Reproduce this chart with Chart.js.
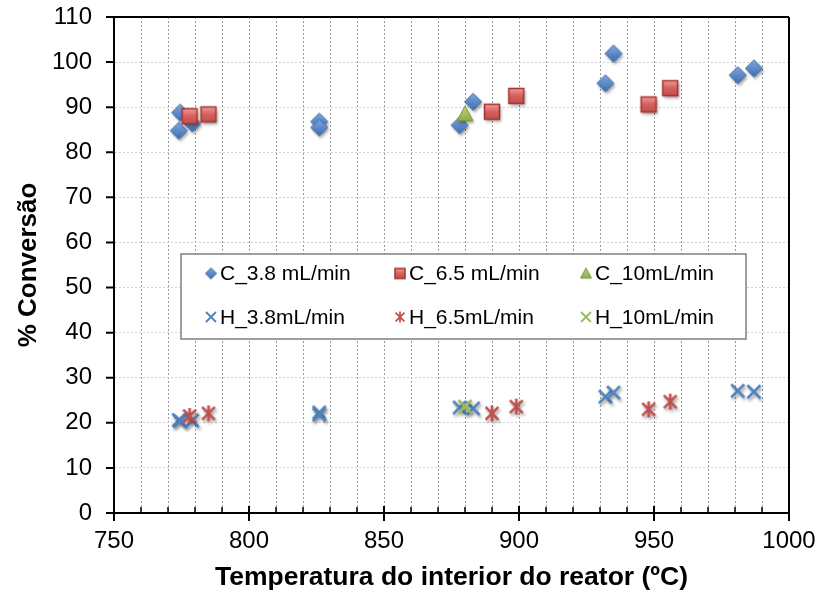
<!DOCTYPE html>
<html>
<head>
<meta charset="utf-8">
<title>Conversão vs temperatura</title>
<script src="https://cdn.jsdelivr.net/npm/chart.js@4.4.1/dist/chart.umd.min.js"></script>
<style>
  html, body { margin: 0; padding: 0; background: #fff; }
</style>
</head>
<body>
<canvas id="chart" width="824" height="593"></canvas>
<script>
// axis ranges
const xMin = 750, xMax = 1000, xStep = 10, xLabelStep = 50;
const yMin = 0, yMax = 110, yStep = 10;

// 3.8 mL/min runs
const temp38  = [774, 774.5, 779, 826, 826, 878, 883, 932, 935, 981, 987];
const convC38 = [84.8, 88.8, 86.4, 86.8, 85.5, 86.0, 91.2, 95.3, 101.9, 97.1, 98.6];
const convH38 = [20.6, 20.4, 20.5, 22.3, 21.8, 23.4, 23.2, 25.8, 26.7, 27.1, 26.9];

// 6.5 mL/min runs
const temp65  = [778, 785, 890, 899, 948, 956];
const convC65 = [88.0, 88.4, 89.0, 92.5, 90.6, 94.2];
const convH65 = [21.5, 22.1, 22.1, 23.6, 23.0, 24.7];

// 10 mL/min run
const temp10  = [880];
const convC10 = [88.5];
const convH10 = [23.6];

const FONT = '"Liberation Sans", Arial, sans-serif';

// build a marker bitmap (with soft drop shadow) to use as pointStyle
function marker(size, draw, shadow) {
    const c = document.createElement('canvas');
    c.width = c.height = size;
    const g = c.getContext('2d');
    g.translate(size / 2, size / 2);
    if (shadow) {
        g.shadowColor = 'rgba(0,0,0,0.35)';
        g.shadowBlur = 3;
        g.shadowOffsetX = 1.5;
        g.shadowOffsetY = 2.5;
    }
    draw(g);
    return c;
}

const diamond = r => g => {
    const grad = g.createLinearGradient(0, -r, 0, r);
    grad.addColorStop(0, '#7fa7dc');
    grad.addColorStop(1, '#3d6eb2');
    g.beginPath();
    g.moveTo(0, -r); g.lineTo(r, 0); g.lineTo(0, r); g.lineTo(-r, 0); g.closePath();
    g.fillStyle = grad; g.fill();
    g.shadowColor = 'transparent';
    g.lineWidth = 1; g.strokeStyle = '#3a64a0'; g.stroke();
};

const square = h => g => {
    const grad = g.createLinearGradient(0, -h, 0, h);
    grad.addColorStop(0, '#f29a98');
    grad.addColorStop(0.5, '#d4605d');
    grad.addColorStop(1, '#c0504d');
    g.fillStyle = grad;
    g.fillRect(-h, -h, 2 * h, 2 * h);
    g.shadowColor = 'transparent';
    g.lineWidth = 1.5; g.strokeStyle = '#a3322f';
    g.strokeRect(-h, -h, 2 * h, 2 * h);
};

const triangle = r => g => {
    const grad = g.createLinearGradient(0, -r, 0, r);
    grad.addColorStop(0, '#b7d37a');
    grad.addColorStop(1, '#8aab47');
    g.beginPath();
    g.moveTo(0, -r); g.lineTo(r, r * 0.85); g.lineTo(-r, r * 0.85); g.closePath();
    g.fillStyle = grad; g.fill();
    g.shadowColor = 'transparent';
    g.lineWidth = 1; g.strokeStyle = '#7b9b3a'; g.stroke();
};

const cross = (r, color, w) => g => {
    g.strokeStyle = color; g.lineWidth = w; g.lineCap = 'butt';
    g.beginPath();
    g.moveTo(-r, -r); g.lineTo(r, r);
    g.moveTo(r, -r); g.lineTo(-r, r);
    g.stroke();
};

const star = (r, color, w) => g => {
    g.strokeStyle = color; g.lineWidth = w;
    g.beginPath();
    g.moveTo(-r * 0.8, -r * 0.8); g.lineTo(r * 0.8, r * 0.8);
    g.moveTo(r * 0.8, -r * 0.8); g.lineTo(-r * 0.8, r * 0.8);
    g.moveTo(0, -r); g.lineTo(0, r);
    g.stroke();
};

const BLUE = '#4f81bd', RED = '#c0504d', GREEN = '#9bbb59';

const pts = {
    c38: marker(30, diamond(8.5), true),
    c65: marker(30, square(7.5), true),
    c10: marker(30, triangle(8), true),
    h38: marker(30, cross(6.5, BLUE, 2.6), true),
    h65: marker(30, star(8, RED, 2.6), true),
    h10: marker(30, cross(6.5, GREEN, 2.6), true)
};
const keys = {
    c38: marker(16, diamond(5.5), false),
    c65: marker(16, square(5), false),
    c10: marker(16, triangle(5.5), false),
    h38: marker(16, cross(5, BLUE, 1.8), false),
    h65: marker(16, star(5.5, RED, 1.8), false),
    h10: marker(16, cross(5, GREEN, 1.8), false)
};

const xy = (xs, ys) => xs.map((x, i) => ({ x: x, y: ys[i] }));

const series = [
    { key: 'c38', label: 'C_3.8 mL/min', data: xy(temp38, convC38), order: 2 },
    { key: 'c65', label: 'C_6.5 mL/min', data: xy(temp65, convC65), order: 1 },
    { key: 'c10', label: 'C_10mL/min',   data: xy(temp10, convC10), order: 0 },
    { key: 'h38', label: 'H_3.8mL/min',  data: xy(temp38, convH38), order: 2 },
    { key: 'h65', label: 'H_6.5mL/min',  data: xy(temp65, convH65), order: 1 },
    { key: 'h10', label: 'H_10mL/min',   data: xy(temp10, convH10), order: 0 }
];

// frame on top/right plus Excel-style tick marks
const frame = {
    id: 'frame',
    afterDraw(chart) {
        const { ctx, chartArea: a, scales: { x, y } } = chart;
        ctx.save();
        ctx.strokeStyle = '#000';
        ctx.lineWidth = 2;
        ctx.beginPath();
        ctx.moveTo(a.left, a.top); ctx.lineTo(a.right, a.top);
        ctx.moveTo(a.right, a.top); ctx.lineTo(a.right, a.bottom);
        for (let v = yMin; v <= yMax; v += yStep) {
            const py = y.getPixelForValue(v);
            ctx.moveTo(a.left - 8, py); ctx.lineTo(a.left, py);
        }
        for (let v = xMin; v <= xMax; v += xLabelStep) {
            const px = x.getPixelForValue(v);
            ctx.moveTo(px, a.bottom - 7); ctx.lineTo(px, a.bottom + 8);
        }
        ctx.stroke();
        ctx.lineWidth = 1.5;
        ctx.beginPath();
        for (let v = xMin; v <= xMax; v += xStep) {
            if (v % xLabelStep === 0) continue;
            const px = x.getPixelForValue(v);
            ctx.moveTo(px, a.bottom - 6); ctx.lineTo(px, a.bottom);
        }
        ctx.stroke();
        ctx.restore();
    }
};

// boxed legend sitting inside the plot
const boxLegend = {
    id: 'boxLegend',
    afterDatasetsDraw(chart) {
        const ctx = chart.ctx;
        const box = { l: 181, t: 254, w: 565, h: 85 };
        const cols = [211, 400, 586];
        const rows = [273.5, 317];
        ctx.save();
        ctx.fillStyle = '#fff';
        ctx.fillRect(box.l, box.t, box.w, box.h);
        ctx.strokeStyle = '#7f7f7f';
        ctx.lineWidth = 1.5;
        ctx.strokeRect(box.l, box.t, box.w, box.h);
        ctx.font = '21px ' + FONT;
        ctx.fillStyle = '#000';
        ctx.textBaseline = 'middle';
        series.forEach((s, i) => {
            const cx = cols[i % 3], cy = rows[Math.floor(i / 3)];
            const k = keys[s.key];
            ctx.drawImage(k, cx - k.width / 2, cy - k.height / 2);
            ctx.fillText(s.label, cx + 9, cy + 1);
        });
        ctx.restore();
    }
};

Chart.defaults.font.family = FONT;
Chart.defaults.color = '#000';

new Chart(document.getElementById('chart'), {
    type: 'scatter',
    data: {
        datasets: series.map(s => ({
            label: s.label,
            data: s.data,
            order: s.order,
            pointStyle: pts[s.key],
            pointRadius: 8,
            pointHoverRadius: 8,
            showLine: false
        }))
    },
    options: {
        responsive: false,
        animation: false,
        events: [],
        layout: { padding: { top: 17, right: 35, left: 0, bottom: 0 } },
        plugins: {
            legend: { display: false },
            tooltip: { enabled: false }
        },
        scales: {
            x: {
                type: 'linear',
                min: xMin, max: xMax,
                afterFit: s => { s.height = 80; s.paddingLeft = 0; s.paddingRight = 0; },
                ticks: {
                    stepSize: xStep,
                    autoSkip: false,
                    maxRotation: 0,
                    padding: 14,
                    font: { size: 24 },
                    callback: v => (v % xLabelStep === 0 ? String(v) : '')
                },
                grid: { color: '#999999', lineWidth: 1, drawTicks: false },
                border: { color: '#000', width: 2, dash: [2, 2] },
                title: {
                    display: true,
                    text: 'Temperatura do interior do reator (ºC)',
                    font: { size: 26.5, weight: 'bold' },
                    padding: { top: 0, bottom: -1 }
                }
            },
            y: {
                min: yMin, max: yMax,
                afterFit: s => { s.width = 114; s.paddingTop = 0; s.paddingBottom = 0; },
                ticks: {
                    stepSize: yStep,
                    padding: 22,
                    font: { size: 24 }
                },
                grid: { color: '#d0d0d0', lineWidth: 1, drawTicks: false },
                border: { color: '#000', width: 2, dash: [2, 2] },
                title: {
                    display: true,
                    text: '% Conversão',
                    font: { size: 26, weight: 'bold' },
                    padding: { top: 13, bottom: 0 }
                }
            }
        }
    },
    plugins: [frame, boxLegend]
});
</script>
</body>
</html>
